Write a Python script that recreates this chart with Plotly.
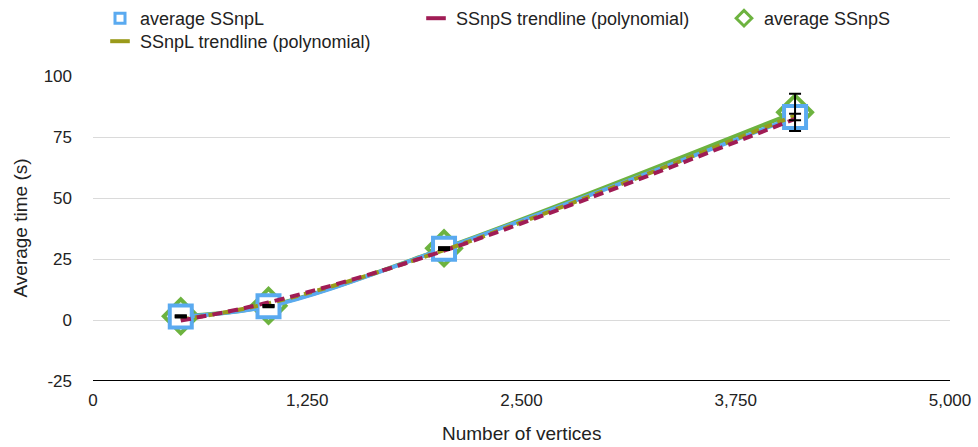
import plotly.graph_objects as go

vertices = [512, 1024, 2048, 4096]
avg_ssnpl = [1.4, 5.6, 29.2, 83.2]
avg_ssnps = [1.5, 5.8, 29.4, 85.1]
err_ssnpl = [0.4, 0.4, 0.5, 1.3]
err_ssnps = [0.3, 0.3, 0.4, 7.6]
trend_ssnpl = [0.2, 6.8, 28.6, 83.8]
trend_ssnps = [-0.2, 7.2, 28.4, 82.4]

x_ticks = [0, 1250, 2500, 3750, 5000]
x_ticklabels = ["0", "1,250", "2,500", "3,750", "5,000"]
y_ticks = [-25, 0, 25, 50, 75, 100]
y_ticklabels = ["-25", "0", "25", "50", "75", "100"]

BLUE = "#5aaaf0"
GREEN = "#6db33f"
OLIVE = "#9a9a1a"
MAROON = "#a01c55"
FONT = "Liberation Sans, Arial, sans-serif"
TXT = "#222222"

W, H = 978, 447
ML, MR, MT, MB = 93, 28, 76, 66
PW, PH = W - ML - MR, H - MT - MB

fig = go.Figure()

# series lines + markers
fig.add_trace(go.Scatter(
    x=vertices, y=avg_ssnps, mode="lines+markers", line=dict(color=GREEN, width=4, shape="spline"),
    marker=dict(symbol="diamond", size=26, color="white", line=dict(color=GREEN, width=4)),
    showlegend=False, hoverinfo="skip"))
fig.add_trace(go.Scatter(
    x=vertices, y=avg_ssnpl, mode="lines+markers", line=dict(color=BLUE, width=4, shape="spline"),
    marker=dict(symbol="square", size=22, color="white", line=dict(color=BLUE, width=4)),
    showlegend=False, hoverinfo="skip"))

# trendlines
fig.add_trace(go.Scatter(
    x=vertices, y=trend_ssnpl, mode="lines", line=dict(color=OLIVE, width=4, dash="8px,6px", shape="spline"),
    showlegend=False, hoverinfo="skip"))
fig.add_trace(go.Scatter(
    x=vertices, y=trend_ssnps, mode="lines", line=dict(color=MAROON, width=4, dash="10px,6px", shape="spline"),
    showlegend=False, hoverinfo="skip"))

# error bars
for vals, errs in ((avg_ssnpl, err_ssnpl), (avg_ssnps, err_ssnps)):
    fig.add_trace(go.Scatter(
        x=vertices, y=vals, mode="markers", marker=dict(size=1, opacity=0),
        error_y=dict(type="data", array=errs, visible=True, color="black", thickness=2, width=6),
        showlegend=False, hoverinfo="skip"))

# legend entries
fig.add_trace(go.Scatter(x=[None], y=[None], mode="markers", name="average SSnpL",
    marker=dict(symbol="square", size=10, color="white", line=dict(color=BLUE, width=3)), legend="legend"))
fig.add_trace(go.Scatter(x=[None], y=[None], mode="markers", name="SSnpL trendline (polynomial)",
    marker=dict(symbol="line-ew", size=14, line=dict(color=OLIVE, width=4)), legend="legend4"))
fig.add_trace(go.Scatter(x=[None], y=[None], mode="markers", name="SSnpS trendline (polynomial)",
    marker=dict(symbol="line-ew", size=14, line=dict(color=MAROON, width=4)), legend="legend2"))
fig.add_trace(go.Scatter(x=[None], y=[None], mode="markers", name="average SSnpS",
    marker=dict(symbol="diamond", size=12, color="white", line=dict(color=GREEN, width=3)), legend="legend3"))

legend_common = dict(xref="container", yref="container", xanchor="left", yanchor="top",
                     orientation="v", bgcolor="rgba(0,0,0,0)", font=dict(family=FONT, size=18, color=TXT),
                     tracegroupgap=0)

fig.update_layout(
    width=W, height=H,
    margin=dict(l=ML, r=MR, t=MT, b=MB, autoexpand=False),
    paper_bgcolor="white", plot_bgcolor="white",
    font=dict(family=FONT, size=17, color=TXT),
    legend=dict(x=100/W, y=1.0, **legend_common),
    legend4=dict(x=100/W, y=1.0 - 23/H, **legend_common),
    legend2=dict(x=416/W, y=1.0, **legend_common),
    legend3=dict(x=724/W, y=1.0, **legend_common),
    xaxis=dict(range=[0, 5000], tickvals=x_ticks, ticktext=x_ticklabels, showgrid=False,
               zeroline=False, showline=False, ticks="", ticklabelstandoff=7, tickangle=0,
               automargin=False),
    yaxis=dict(range=[-25, 100], tickvals=y_ticks, ticktext=y_ticklabels, showgrid=True,
               gridcolor="#dadada", gridwidth=1, automargin=False,
               zeroline=False, showline=False, ticks="", ticklabelstandoff=20),
    shapes=[dict(type="line", xref="paper", yref="y", x0=0, x1=1, y0=-25, y1=-25,
                 line=dict(color="black", width=2))],
    annotations=[
        dict(text="Number of vertices", xref="paper", yref="paper", x=0.5, y=-(433 - (H - MB)) / PH,
             xanchor="center", yanchor="middle", showarrow=False, font=dict(size=19, color=TXT)),
        dict(text="Average time (s)", xref="paper", yref="paper", x=-(ML - 20) / PW, y=0.5,
             xanchor="center", yanchor="middle", textangle=-90, showarrow=False,
             font=dict(size=19, color=TXT)),
    ],
)

fig.write_html("out.html")
